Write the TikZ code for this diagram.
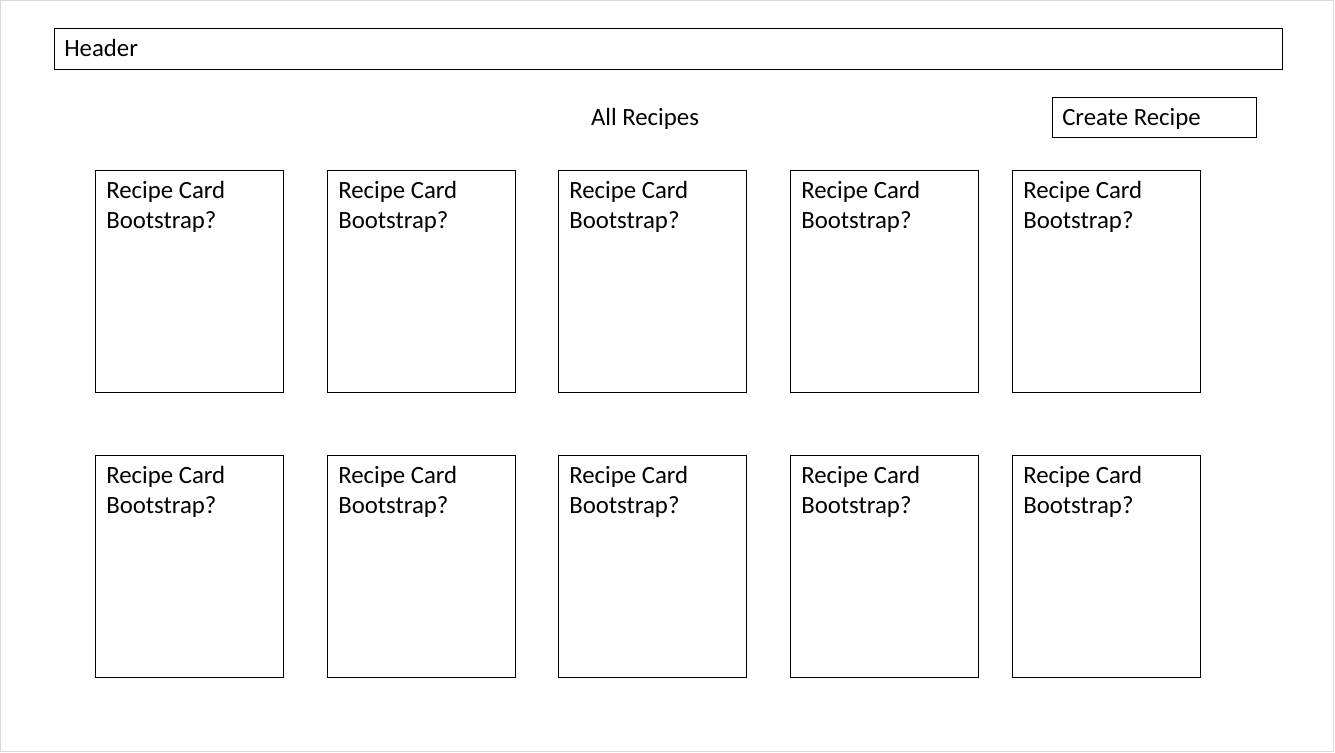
\documentclass[tikz,border=0pt]{standalone}
\usepackage{fontspec}
\setmainfont{Carlito}
\begin{document}
\begin{tikzpicture}[x=0.75pt,y=-0.75pt,
  frame/.style={draw=black,line width=0.8pt,inner sep=0pt},
  card/.style={frame,minimum width=141pt,minimum height=166.5pt,anchor=north west},
  cardtext/.style={anchor=north west,inner sep=0pt,align=left,font=\fontsize{18.6}{22.5}\selectfont},
  lbl/.style={anchor=base west,inner sep=0pt,font=\fontsize{18.6}{22.5}\selectfont}]
\useasboundingbox (0,0) rectangle (1335,753);
\draw[draw=black!15,line width=0.8pt] (0.5,0.5) rectangle (1333.5,751.5);
\node[frame,minimum width=921pt,minimum height=30.75pt,anchor=north west] (header) at (54,28) {};
\node[lbl] (headertext) at (64,56) {Header};
\node[anchor=base,inner sep=0pt,font=\fontsize{18.6}{22.5}\selectfont] (all) at (645,125) {All Recipes};
\node[frame,minimum width=153pt,minimum height=30pt,anchor=north west] (create) at (1052,97) {};
\node[lbl] (createtext) at (1062,125) {Create Recipe};
\foreach \r/\y in {1/170,2/455}{
  \foreach \c/\x in {1/95,2/327,3/558,4/790,5/1012}{
    \node[card] (card\r\c) at (\x,\y) {};
    \node[cardtext] (text\r\c) at ([shift={(11,11.5)}]card\r\c.north west) {Recipe Card\\Bootstrap?};
  }
}
\end{tikzpicture}
\end{document}
